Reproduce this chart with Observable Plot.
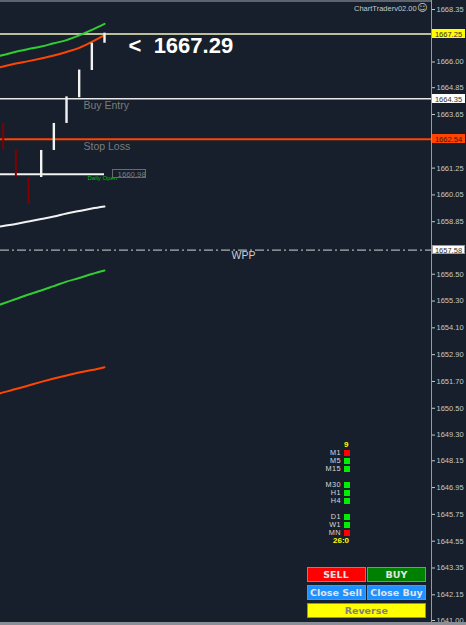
<!DOCTYPE html>
<html><head><meta charset="utf-8">
<script src="https://cdn.jsdelivr.net/npm/d3@7"></script>
<script src="https://cdn.jsdelivr.net/npm/@observablehq/plot@0.6"></script>
<style>
html,body{margin:0;padding:0;background:#161f2b;}
#wrap{position:relative;width:466px;height:625px;overflow:hidden;font-family:"Liberation Sans",Arial,sans-serif;}
#wrap svg{display:block;}
.plabel{position:absolute;left:432px;width:33px;height:9px;font-size:7.5px;line-height:9px;text-align:center;box-sizing:border-box;}
.btn{position:absolute;box-sizing:border-box;border:1px solid #8a8a8a;font-family:"DejaVu Sans",sans-serif;font-weight:bold;font-size:9.5px;text-align:center;color:#dcdcdc;}
.tf{position:absolute;font-size:7.3px;letter-spacing:0.4px;color:#d8d8d8;text-align:right;width:40px;height:7.9px;line-height:7.9px;}
.sq{position:absolute;width:6px;height:6px;}
</style></head><body><div id="wrap"></div>
<script>
// ---- data ----
const barIndex = [0, 1, 2, 3, 4, 5, 6, 7, 8];
const barLow   = [1662.04, 1660.83, 1659.62, 1660.83, 1662.04, 1663.25, 1664.40, 1665.62, 1666.84];
const barHigh  = [1663.25, 1662.04, 1660.83, 1662.04, 1663.25, 1664.44, 1665.64, 1666.84, 1667.29];
const barDir   = [-1, -1, -1, 1, 1, 1, 1, 1, 1];

const maIndex      = [-1, 0, 1, 2, 3, 4, 5, 6, 7, 8];
const maGreenUpper = [1666.18, 1666.31, 1666.46, 1666.58, 1666.69, 1666.84, 1666.98, 1667.19, 1667.44, 1667.71];
const maRedUpper   = [1665.66, 1665.80, 1665.93, 1666.04, 1666.16, 1666.29, 1666.45, 1666.63, 1666.90, 1667.20];
const maWhite      = [1658.55, 1658.66, 1658.75, 1658.86, 1658.97, 1659.08, 1659.22, 1659.33, 1659.44, 1659.53];
const maGreenLower = [1654.99, 1655.19, 1655.39, 1655.59, 1655.77, 1655.97, 1656.17, 1656.33, 1656.51, 1656.67];
const maRedLower   = [1651.03, 1651.21, 1651.36, 1651.52, 1651.68, 1651.83, 1651.97, 1652.10, 1652.21, 1652.34];

const askPrice = 1667.25, bidPrice = 1667.29, entryPrice = 1664.35, stopPrice = 1662.54, dailyOpen = 1660.98, wppPrice = 1657.58;

const axisTicks = [1668.35, 1666.00, 1664.85, 1663.65, 1661.25, 1660.05, 1658.85, 1656.50, 1655.30, 1654.10,
  1652.90, 1651.70, 1650.50, 1649.30, 1648.15, 1646.95, 1645.75, 1644.55, 1643.35, 1642.15, 1641.00];

const tfNames  = ["M1", "M5", "M15", "M30", "H1", "H4", "D1", "W1", "MN"];
const tfSignal = [-1, 1, 1, 1, 1, 1, 1, 1, -1];
const tfTop = "9", tfBottom = "26:0";

// ---- tables ----
const bars = barIndex.map((i, k) => ({i, lo: barLow[k], hi: barHigh[k], dir: barDir[k]}));
const mk = arr => maIndex.map((i, k) => ({i, v: arr[k]}));
const lastI = barIndex[barIndex.length - 1];

const W = 466, H = 625;
const xDomain = [-0.2132, 33.824];
const yDomain = [1640.776, 1668.753];

const plot = Plot.plot({
  width: W, height: H,
  marginTop: 0, marginBottom: 0, marginLeft: 0, marginRight: 35,
  x: {domain: xDomain, axis: null},
  y: {domain: yDomain, axis: null},
  style: {background: "#161f2b", color: "#c8c8c8", fontFamily: "'Liberation Sans', Arial, sans-serif", overflow: "hidden"},
  marks: [
    Plot.ruleY([wppPrice], {stroke: "#d4d4d4", strokeWidth: 1, strokeDasharray: "9,3,2,3"}),
    Plot.ruleY([askPrice], {stroke: "#f4f4c0", strokeWidth: 1.5}),
    Plot.ruleY([entryPrice], {stroke: "#e8e8e8", strokeWidth: 1.5}),
    Plot.ruleY([stopPrice], {stroke: "#ff4500", strokeWidth: 2}),
    Plot.line(mk(maWhite), {x: "i", y: "v", stroke: "#f2f2f2", strokeWidth: 2, curve: "monotone-x"}),
    Plot.line(mk(maGreenLower), {x: "i", y: "v", stroke: "#32cd32", strokeWidth: 2, curve: "monotone-x"}),
    Plot.line(mk(maRedLower), {x: "i", y: "v", stroke: "#ff4500", strokeWidth: 2, curve: "monotone-x"}),
    Plot.line(mk(maGreenUpper), {x: "i", y: "v", stroke: "#32cd32", strokeWidth: 2, curve: "monotone-x"}),
    Plot.line(mk(maRedUpper), {x: "i", y: "v", stroke: "#ff4500", strokeWidth: 2, curve: "monotone-x"}),
    Plot.ruleY([dailyOpen], {x1: xDomain[0], x2: lastI, stroke: "#f2f2f2", strokeWidth: 2}),
    Plot.ruleX(bars.filter(d => d.dir < 0), {x: "i", y1: "lo", y2: "hi", stroke: "#800000", strokeWidth: 2}),
    Plot.ruleX(bars.filter(d => d.dir > 0), {x: "i", y1: "lo", y2: "hi", stroke: "#f2f2f2", strokeWidth: 2.4}),
    Plot.text([{x: lastI + 1.9, y: bidPrice, t: "<\u00a0\u00a01667.29"}], {x: "x", y: "y", text: "t", dy: 12.5, textAnchor: "start", fill: "#ffffff", fontSize: 22, fontWeight: "bold"}),
    Plot.text([{x: lastI - 1.66, y: entryPrice, t: "Buy Entry"}, {x: lastI - 1.66, y: stopPrice, t: "Stop Loss"}],
      {x: "x", y: "y", text: "t", dy: 7, textAnchor: "start", fill: "#7c7c7c", fontSize: 10.5}),
    Plot.text([{x: 18.03, y: wppPrice, t: "WPP"}], {x: "x", y: "y", text: "t", dy: 6, textAnchor: "start", fill: "#c8ccd4", fontSize: 10.5}),
    Plot.text([{x: lastI - 1.343, y: dailyOpen, t: "Daily Open"}], {x: "x", y: "y", text: "t", dy: 4, textAnchor: "start", fill: "#00c000", fontSize: 6}),
    Plot.text([{x: lastI + 1.03, y: dailyOpen, t: "1660.98"}], {x: "x", y: "y", text: "t", textAnchor: "start", fill: "#7c7c7c", fontSize: 7.8}),
    Plot.ruleX([xDomain[1]], {stroke: "#9a9a9a", strokeWidth: 1}),
    Plot.ruleY([yDomain[1]], {stroke: "#5c6470", strokeWidth: 3}),
    Plot.axisY({anchor: "right", ticks: axisTicks, tickFormat: d => d.toFixed(2), tickSize: 3, tickPadding: 2, fontSize: 7.5, label: null})
  ]
});

const wrap = document.getElementById("wrap");
wrap.appendChild(plot);
const sx = plot.scale("x"), sy = plot.scale("y");

function el(tag, cls, css, text) {
  const e = document.createElement(tag);
  if (cls) e.className = cls;
  Object.assign(e.style, css);
  if (text != null) e.textContent = text;
  wrap.appendChild(e);
  return e;
}

// box around 1660.98
el("div", null, {position: "absolute", left: (sx.apply(lastI + 0.62)) + "px", top: (sy.apply(dailyOpen) - 4.5) + "px",
  width: "34px", height: "9px", border: "1px solid #6a6a6a", boxSizing: "border-box"});

// price labels on the axis
const priceLabels = [
  {v: askPrice, bg: "#ffff00", fg: "#303030", bd: "#ffff00"},
  {v: entryPrice, bg: "#ffffff", fg: "#303030", bd: "#ffffff"},
  {v: stopPrice, bg: "#ff4500", fg: "#3a1a10", bd: "#ff4500"},
  {v: wppPrice, bg: "#ffffff", fg: "#303030", bd: "#9a9a9a"}
];
priceLabels.forEach(p => {
  el("div", "plabel", {top: (sy.apply(p.v) - 4.5) + "px", background: p.bg, color: p.fg, border: "1px solid " + p.bd}, p.v.toFixed(2));
});

// header
el("div", null, {position: "absolute", left: "354px", top: "4px", fontSize: "7.5px", color: "#c8c8c8", whiteSpace: "nowrap"}, "ChartTraderv02.00");
el("div", null, {position: "absolute", left: "417px", top: "2px", fontSize: "10px", color: "#c8c8c8", fontFamily: "'DejaVu Sans',sans-serif"}, "\u263A");

// bottom line
el("div", null, {position: "absolute", left: "0px", top: "622px", width: "466px", height: "3px", background: "#8a8e96"});

// timeframe panel
const rowPos = [0, 1, 2, 4, 5, 6, 8, 9, 10];
const rowY = p => 453 + 7.95 * p;
tfNames.forEach((n, k) => {
  const y = rowY(rowPos[k]);
  el("div", "tf", {left: "301px", top: (y - 3.95) + "px"}, n);
  el("div", "sq", {left: "344px", top: (y - 3) + "px", background: tfSignal[k] > 0 ? "#00ee00" : "#ff0000"});
});
el("div", null, {position: "absolute", left: "344px", top: (rowY(-1) - 4.5) + "px", fontSize: "8px", lineHeight: "8px", fontWeight: "bold", color: "#ffff00"}, tfTop);
el("div", null, {position: "absolute", left: "333px", top: (rowY(11) - 3.5) + "px", fontSize: "8px", lineHeight: "8px", fontWeight: "bold", color: "#ffff00"}, tfBottom);

// buttons
const buttons = [
  {t: "SELL", x: 306.5, y: 567, w: 59, h: 15, bg: "#ff0000", fg: "#e4e4e4"},
  {t: "BUY", x: 367, y: 567, w: 59, h: 15, bg: "#008000", fg: "#e4e4e4"},
  {t: "Close Sell", x: 306.5, y: 585, w: 59, h: 15, bg: "#1e90ff", fg: "#e4e4e4"},
  {t: "Close Buy", x: 367, y: 585, w: 59, h: 15, bg: "#1e90ff", fg: "#e4e4e4"},
  {t: "Reverse", x: 306.5, y: 602.5, w: 119.5, h: 15, bg: "#ffff00", fg: "#808080"}
];
buttons.forEach(b => {
  el("div", "btn", {left: b.x + "px", top: b.y + "px", width: b.w + "px", height: b.h + "px", lineHeight: (b.h - 2) + "px", background: b.bg, color: b.fg}, b.t);
});
</script></body></html>
